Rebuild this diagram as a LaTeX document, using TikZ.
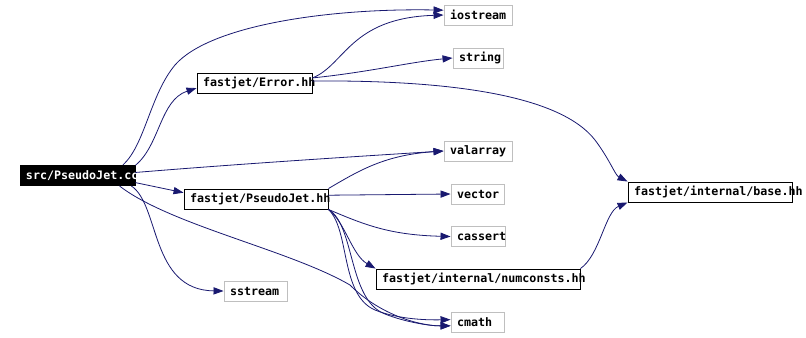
\documentclass[tikz,border=0pt]{standalone}
\usepackage{fontspec}
\newfontfamily\filefont{DejaVu Sans Mono}
\usetikzlibrary{arrows.meta}
\definecolor{edgeblue}{HTML}{191970}
\definecolor{boxgray}{HTML}{BFBFBF}

\begin{document}
\begin{tikzpicture}[x=0.75pt, y=-0.75pt, >={Triangle[length=7.5pt,width=5.4pt]},
  file/.style={draw=boxgray, rectangle, line width=0.7pt, minimum height=15pt, inner xsep=4.5pt, inner ysep=0pt, align=left, text width=#1, font=\filefont\bfseries\fontsize{8.75pt}{10pt}\selectfont},
  local/.style={draw=black},
  dep/.style={->, draw=edgeblue, line width=0.6pt}]
\useasboundingbox (0,0) rectangle (806,337);

\node[file=77.25pt, local, fill=black, text=white] (cc) at (77.5,175.5) {src/PseudoJet.cc};
\node[file=77.25pt, local] (err) at (254.5,83) {fastjet/Error.hh};
\node[file=99pt, local] (pj) at (256,199) {fastjet/PseudoJet.hh};
\node[file=42pt] (ios) at (478,15) {iostream};
\node[file=28.5pt] (str) at (478,58) {string};
\node[file=42pt] (val) at (478,151) {valarray};
\node[file=30.75pt] (vec) at (477.5,194) {vector};
\node[file=31.5pt] (cas) at (478,236.5) {cassert};
\node[file=144pt, local] (num) at (478,279) {fastjet/internal/numconsts.hh};
\node[file=30.75pt] (cma) at (477.5,322) {cmath};
\node[file=114pt, local] (base) at (710,192) {fastjet/internal/base.hh};
\node[file=38.25pt] (sst) at (255.5,291) {sstream};

\draw[dep] (cc.10) .. controls (160,145) and (160,100) .. (err.185);
\draw[dep] (cc.13) .. controls (145,145) and (150,95) .. (175,65) .. controls (210,25) and (330,8) .. (ios.172);
\draw[dep] (cc.3) .. controls (250,163) and (380,155) .. (val.west);
\draw[dep] (cc.-7) -- (pj.175);
\draw[dep] (cc.-11) .. controls (160,205) and (150,290) .. (sst.west);
\draw[dep] (cc.-14) .. controls (170,225) and (290,250) .. (350,285) .. controls (380,315) and (420,326) .. (cma.188);
\draw[dep] (err.5) .. controls (345,65) and (350,18) .. (ios.west);
\draw[dep] (err.5) .. controls (370,72) and (410,62) .. (str.west);
\draw[dep] (err.2) .. controls (450,80) and (560,95) .. (595,140) .. controls (610,160) and (615,175) .. (base.north west);
\draw[dep] (pj.north east) .. controls (360,170) and (385,155) .. (val.west);
\draw[dep] (pj.3) -- (vec.west);
\draw[dep] (pj.south east) .. controls (365,225) and (390,235) .. (cas.west);
\draw[dep] (pj.south east) .. controls (345,222) and (352,255) .. (num.north west);
\draw[dep] (pj.south east) .. controls (350,230) and (340,295) .. (375,310) .. controls (400,320) and (430,320) .. (cma.175);
\draw[dep] (pj.south east) .. controls (355,225) and (348,300) .. (385,314) .. controls (405,322) and (430,326) .. (cma.188);
\draw[dep] (num.north east) .. controls (600,255) and (605,212) .. (base.south west);
\end{tikzpicture}
\end{document}
